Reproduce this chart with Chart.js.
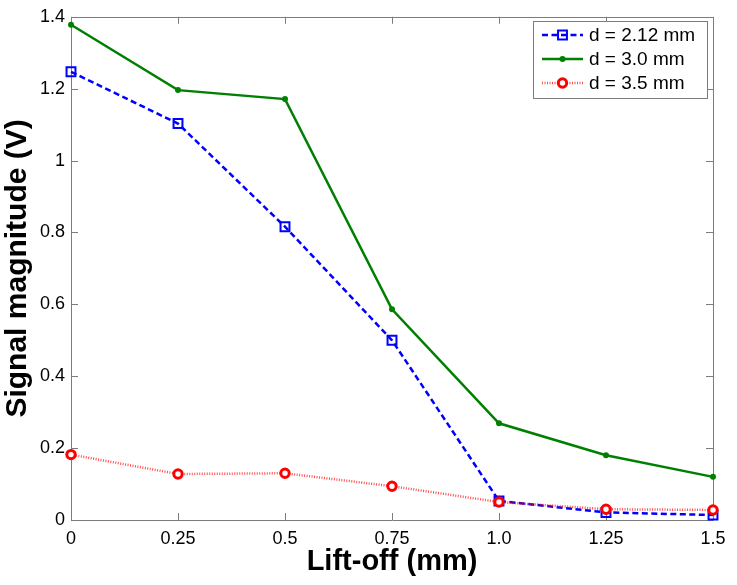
<!DOCTYPE html>
<html>
<head>
<meta charset="utf-8">
<title>Signal magnitude vs lift-off</title>
<style>
  body { margin: 0; background: #fff; }
</style>
</head>
<body>
<div style="width: 737px; height: 585px;">
    <canvas id="myChart" width="737" height="585"></canvas>
</div>
<script src="https://cdn.jsdelivr.net/npm/chart.js"></script>
<script>
// data
const liftOff = [0, 0.25, 0.5, 0.75, 1.0, 1.25, 1.5];
const xTickLabels = ['0', '0.25', '0.5', '0.75', '1.0', '1.25', '1.5'];
const yTickLabels = ['0', '0.2', '0.4', '0.6', '0.8', '1', '1.2', '1.4'];
const seriesNames = ['d = 2.12 mm', 'd = 3.0 mm', 'd = 3.5 mm'];
const d212 = [1.247, 1.103, 0.816, 0.500, 0.053, 0.021, 0.014];
const d30 = [1.378, 1.196, 1.171, 0.586, 0.269, 0.180, 0.120];
const d35 = [0.182, 0.128, 0.130, 0.094, 0.050, 0.030, 0.028];

const FONT = "'Liberation Sans', Arial, Helvetica, sans-serif";
const AXIS_GRAY = '#7c7c7c';

function pts(ys) {
    return liftOff.map((x, i) => ({ x: x, y: ys[i] }));
}

// MATLAB-like box with inward ticks on all four sides
const boxPlugin = {
    id: 'matlabBox',
    beforeDatasetsDraw(chart) {
        const { ctx, chartArea: a, scales } = chart;
        const len = 7;
        ctx.save();
        ctx.strokeStyle = AXIS_GRAY;
        ctx.lineWidth = 1;
        ctx.beginPath();
        ctx.rect(Math.round(a.left) + 0.5, Math.round(a.top) + 0.5,
                 Math.round(a.right - a.left), Math.round(a.bottom - a.top));
        scales.x.ticks.forEach(t => {
            const px = Math.round(scales.x.getPixelForValue(t.value)) + 0.5;
            ctx.moveTo(px, a.bottom); ctx.lineTo(px, a.bottom - len);
            ctx.moveTo(px, a.top); ctx.lineTo(px, a.top + len);
        });
        scales.y.ticks.forEach(t => {
            const py = Math.round(scales.y.getPixelForValue(t.value)) + 0.5;
            ctx.moveTo(a.left, py); ctx.lineTo(a.left + len, py);
            ctx.moveTo(a.right, py); ctx.lineTo(a.right - len, py);
        });
        ctx.stroke();
        ctx.restore();
    }
};

function drawMarker(ctx, ds, x, y) {
    const r = ds.pointRadius;
    ctx.save();
    ctx.setLineDash([]);
    ctx.lineWidth = ds.pointBorderWidth;
    ctx.strokeStyle = ds.pointBorderColor;
    ctx.fillStyle = ds.pointBackgroundColor;
    ctx.beginPath();
    if (ds.pointStyle === 'rect') {
        const s = Math.SQRT1_2 * r;
        ctx.rect(x - s, y - s, 2 * s, 2 * s);
    } else {
        ctx.arc(x, y, r, 0, Math.PI * 2);
    }
    ctx.fill();
    if (ds.pointBorderWidth > 0) ctx.stroke();
    ctx.restore();
}

const legendPlugin = {
    id: 'boxLegend',
    afterDraw(chart) {
        const { ctx } = chart;
        const bx = 533.5, by = 21.5, bw = 174, bh = 77;
        ctx.save();
        ctx.fillStyle = '#fff';
        ctx.fillRect(bx, by, bw, bh);
        ctx.strokeStyle = AXIS_GRAY;
        ctx.lineWidth = 1;
        ctx.strokeRect(bx, by, bw, bh);
        chart.data.datasets.forEach((ds, i) => {
            const y = 35 + i * 24;
            ctx.save();
            ctx.strokeStyle = ds.borderColor;
            ctx.lineWidth = ds.borderWidth;
            ctx.setLineDash(ds.borderDash || []);
            ctx.beginPath();
            ctx.moveTo(542, y);
            ctx.lineTo(583, y);
            ctx.stroke();
            ctx.restore();
            drawMarker(ctx, ds, 562.5, y);
            ctx.fillStyle = '#000';
            ctx.font = '19px ' + FONT;
            ctx.textAlign = 'left';
            ctx.textBaseline = 'middle';
            ctx.fillText(ds.label, 589, y + 1);
        });
        ctx.restore();
    }
};

const ctx = document.getElementById('myChart').getContext('2d');

const myChart = new Chart(ctx, {
    type: 'line',
    data: {
        datasets: [{
            label: seriesNames[0],
            data: pts(d212),
            borderColor: '#0000ff',
            borderWidth: 2.5,
            borderDash: [6, 3.5],
            pointStyle: 'rect',
            pointRadius: 6.3,
            pointBorderWidth: 2,
            pointBorderColor: '#0000ff',
            pointBackgroundColor: 'rgba(0,0,0,0)',
            tension: 0,
            clip: false,
            order: 3,
        }, {
            label: seriesNames[1],
            data: pts(d30),
            borderColor: '#008000',
            borderWidth: 2.5,
            borderDash: [],
            pointStyle: 'circle',
            pointRadius: 3,
            pointBorderWidth: 0,
            pointBorderColor: '#008000',
            pointBackgroundColor: '#008000',
            tension: 0,
            clip: false,
            order: 2,
        }, {
            label: seriesNames[2],
            data: pts(d35),
            borderColor: 'rgba(255,0,0,0.7)',
            borderWidth: 2.5,
            borderDash: [1, 1.5],
            pointStyle: 'circle',
            pointRadius: 4.2,
            pointBorderWidth: 3,
            pointBorderColor: '#ff0000',
            pointBackgroundColor: '#ffffff',
            tension: 0,
            clip: false,
            order: 1,
        }]
    },
    options: {
        responsive: false,
        animation: false,
        layout: { padding: { top: 14, right: 24, left: 0, bottom: 0 } },
        plugins: {
            legend: { display: false },
            tooltip: { enabled: false },
        },
        scales: {
            x: {
                type: 'linear',
                min: 0,
                max: 1.5,
                grid: { display: false, drawTicks: false },
                border: { display: false },
                ticks: {
                    stepSize: 0.25,
                    autoSkip: false,
                    maxRotation: 0,
                    padding: 8,
                    color: '#000',
                    font: { family: FONT, size: 18 },
                    callback: (v) => {
                        const i = liftOff.findIndex(x => Math.abs(x - v) < 1e-6);
                        return i >= 0 ? xTickLabels[i] : '';
                    },
                },
                title: {
                    display: true,
                    text: 'Lift-off (mm)',
                    color: '#000',
                    font: { family: FONT, size: 29, weight: 'bold' },
                    padding: { top: 0, bottom: 6 },
                },
                afterFit: (scale) => { scale.height = 65; },
            },
            y: {
                type: 'linear',
                min: 0,
                max: 1.4,
                grid: { display: false, drawTicks: false },
                border: { display: false },
                ticks: {
                    stepSize: 0.2,
                    padding: 6,
                    color: '#000',
                    font: { family: FONT, size: 18 },
                    callback: (v) => yTickLabels[Math.round(v / 0.2)],
                },
                title: {
                    display: true,
                    text: 'Signal magnitude (V)',
                    color: '#000',
                    font: { family: FONT, size: 30, weight: 'bold' },
                    padding: { top: 0, bottom: 0 },
                },
                afterFit: (scale) => { scale.width = 71; },
            }
        }
    },
    plugins: [boxPlugin, legendPlugin]
});
</script>
</body>
</html>
